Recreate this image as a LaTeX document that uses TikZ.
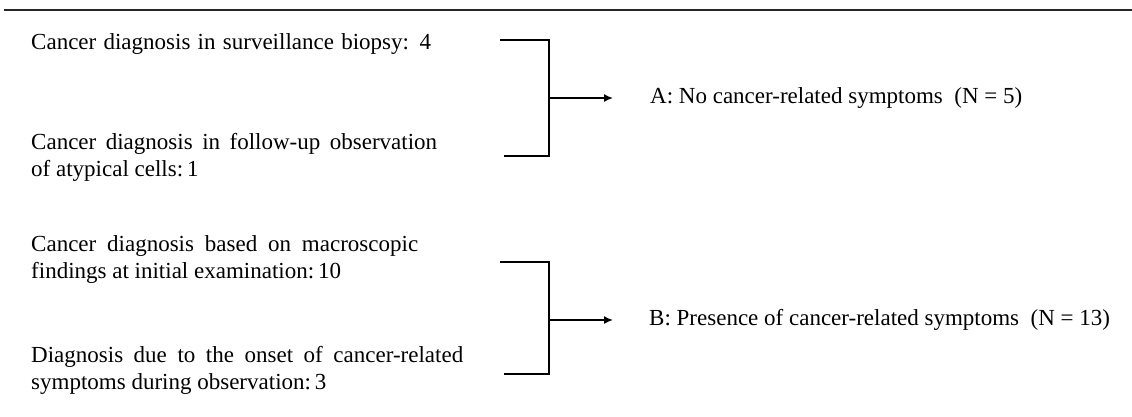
\documentclass[tikz,border=0pt]{standalone}
\usepackage{fontspec}
\setmainfont{Liberation Serif}
\usetikzlibrary{arrows.meta}
\begin{document}
\begin{tikzpicture}[x=1pt,y=-1pt,
  lbl/.style={anchor=west,inner sep=0pt,align=left,font=\fontsize{23}{27}\selectfont},
  brk/.style={line width=1.6pt,line cap=butt,line join=miter},
  arr/.style={line width=1.6pt,-{Latex[length=9pt,width=8pt]}}]
\useasboundingbox (0,0) rectangle (1132,416);
\draw[line width=2.6pt,black!85] (4,10) -- (1132,10);
% left texts
\node[lbl] (t1) at (31,44) {\makebox[400pt][s]{Cancer diagnosis in surveillance biopsy: 4}};
\node[lbl] (t2) at (31,157) {\makebox[406pt][s]{Cancer diagnosis in follow-up observation}\\of atypical cells:\,1};
\node[lbl] (t3) at (31,259) {\makebox[387pt][s]{Cancer diagnosis based on macroscopic}\\findings at initial examination:\,10};
\node[lbl] (t4) at (31,370) {\makebox[432pt][s]{Diagnosis due to the onset of cancer-related}\\symptoms during observation:\,3};
% results
\node[lbl] (A) at (650,98) {A: No cancer-related symptoms\ \ (N = 5)};
\node[lbl] (B) at (649,320) {B: Presence of cancer-related symptoms\ \ (N = 13)};
% brackets
\coordinate (a1) at (500,40);
\coordinate (a2) at (504,156);
\coordinate (mA) at (549,98);
\coordinate (b1) at (500,262);
\coordinate (b2) at (504,374);
\coordinate (mB) at (549,320);
\draw[brk] (a1) -| (mA) |- (a2);
\draw[brk] (b1) -| (mB) |- (b2);
\draw[arr] (mA) -- ([xshift=-37pt]A.west |- mA);
\draw[arr] (mB) -- ([xshift=-36pt]B.west |- mB);
\end{tikzpicture}
\end{document}
